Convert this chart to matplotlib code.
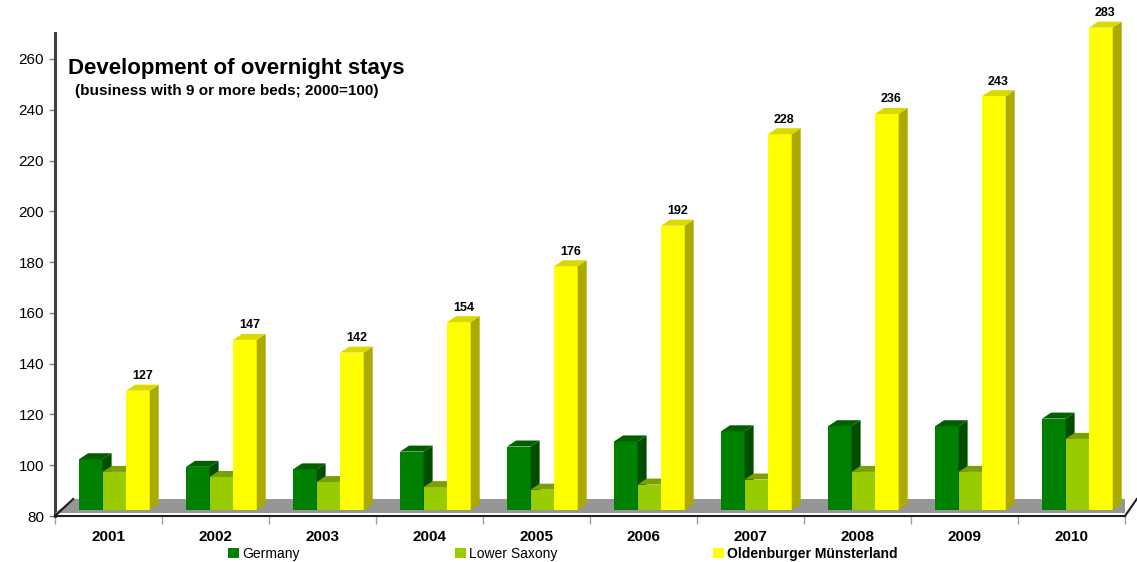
import numpy as np
import matplotlib
matplotlib.use("Agg")
from matplotlib import pyplot as plt
from matplotlib.patches import Polygon, Patch

plt.rcParams['font.family'] = ['Liberation Sans', 'DejaVu Sans']

years = ['2001', '2002', '2003', '2004', '2005', '2006', '2007', '2008', '2009', '2010']
germany = [100, 97, 96, 103, 105, 107, 111, 113, 113, 116]
lower_saxony = [95, 93, 91, 89, 88, 90, 92, 95, 95, 108]
oldenburg = [127, 147, 142, 154, 176, 192, 228, 236, 243, 283]
series_names = ['Germany', 'Lower Saxony', 'Oldenburger Münsterland']

# front / side / top colours for the pseudo 3d bars
front_cols = ['#008000', '#99cc00', '#ffff00']
side_cols = ['#004d00', '#6b8f00', '#aaaa00']
top_cols = ['#006000', '#7a9f00', '#d9d900']

W, H = 1137, 562
k = 2.539  # px per unit
ymax = 270  # value axis max, bars are cut there like in the original

fig = plt.figure(figsize=(W / 100, H / 100), dpi=100)

# axis with the ticks (back wall)
ax = fig.add_axes([55 / W, (H - 516) / H, 1070 / W, 483 / H])
ax.set_xlim(-0.5, 9.5)
ax.set_ylim(80, 80 + 483 / k)
ax.set_yticks(range(80, 261, 20))
ax.tick_params(axis='y', labelsize=11, length=4, width=1, color='#808080', pad=4)
ax.set_xticks(range(10))
ax.set_xticklabels(years, fontweight='bold', fontsize=11)
ax.set_xticks(np.arange(-0.5, 10, 1), minor=True)
ax.tick_params(axis='x', which='major', length=0, pad=10)
ax.tick_params(axis='x', which='minor', length=6, width=1, color='#a0a0a0')
for s in ['top', 'right']:
    ax.spines[s].set_visible(False)
ax.spines['left'].set_linewidth(2.2)
ax.spines['left'].set_color('#404040')
ax.spines['bottom'].set_linewidth(1.5)
ax.spines['bottom'].set_color('#202020')

# axis for the bars (front plane, 80 sits 6 px above the back axis)
ylo = 80 - 6 / k
ax2 = fig.add_axes([55 / W, (H - 516) / H, 1070 / W, 516 / H])
ax2.set_xlim(-0.5, 9.5)
ax2.set_ylim(ylo, ylo + 516 / k)
ax2.axis('off')

# floor
fy0 = ylo + 3 / k
fy1 = ylo + 17 / k
floor = Polygon([(-0.5, fy0), (9.5, fy0), (9.5 + 0.11, fy1), (-0.5 + 0.17, fy1)],
                closed=True, facecolor='#969696', edgecolor='none', zorder=1)
ax2.add_patch(floor)
ax2.plot([-0.5, -0.5 + 0.17], [ylo, fy1], color='#202020', lw=1.5, zorder=2, clip_on=False)
ax2.plot([9.5, 9.5 + 0.11], [ylo, fy1], color='#202020', lw=1.5, zorder=2, clip_on=False)

w = 0.22
offs = [-0.165, 0.055, 0.275]
dx = 9 / 107
dy = 6 / k
data = [germany, lower_saxony, oldenburg]
z = 3
for i in range(len(years)):
    for j in range(3):
        v = data[j][i]
        h = min(v, ymax)
        xc = i + offs[j]
        x0 = xc - w / 2
        ax2.bar(xc, h - 80, width=w, bottom=80, color=front_cols[j], zorder=z)
        side = Polygon([(x0 + w, 80), (x0 + w + dx, 80 + dy), (x0 + w + dx, h + dy), (x0 + w, h)],
                       closed=True, facecolor=side_cols[j], edgecolor='none', zorder=z)
        top = Polygon([(x0, h), (x0 + w, h), (x0 + w + dx, h + dy), (x0 + dx, h + dy)],
                      closed=True, facecolor=top_cols[j], edgecolor='none', zorder=z)
        ax2.add_patch(side)
        ax2.add_patch(top)
        z += 1
        if j == 2:
            ax2.text(xc + dx / 2, h + dy + 1, str(v), ha='center', va='bottom',
                     fontsize=9, fontweight='bold', zorder=100)

fig.text(68 / W, 1 - 68 / H, 'Development of overnight stays', fontsize=16,
         fontweight='bold', va='center', ha='left')
fig.text(75 / W, 1 - 91 / H, '(business with 9 or more beds; 2000=100)', fontsize=11,
         fontweight='bold', va='center', ha='left')

handles = [Patch(facecolor=c, edgecolor='none') for c in front_cols]
leg = fig.legend(handles, series_names, loc='center left', bbox_to_anchor=(228 / W, 1 - 554 / H),
                 ncol=3, frameon=False, fontsize=10, handlelength=0.8, handleheight=0.8,
                 handletextpad=0.2, columnspacing=11.2, borderpad=0, borderaxespad=0)
leg.get_texts()[2].set_fontweight('bold')

fig.savefig('out.png', dpi=100)
